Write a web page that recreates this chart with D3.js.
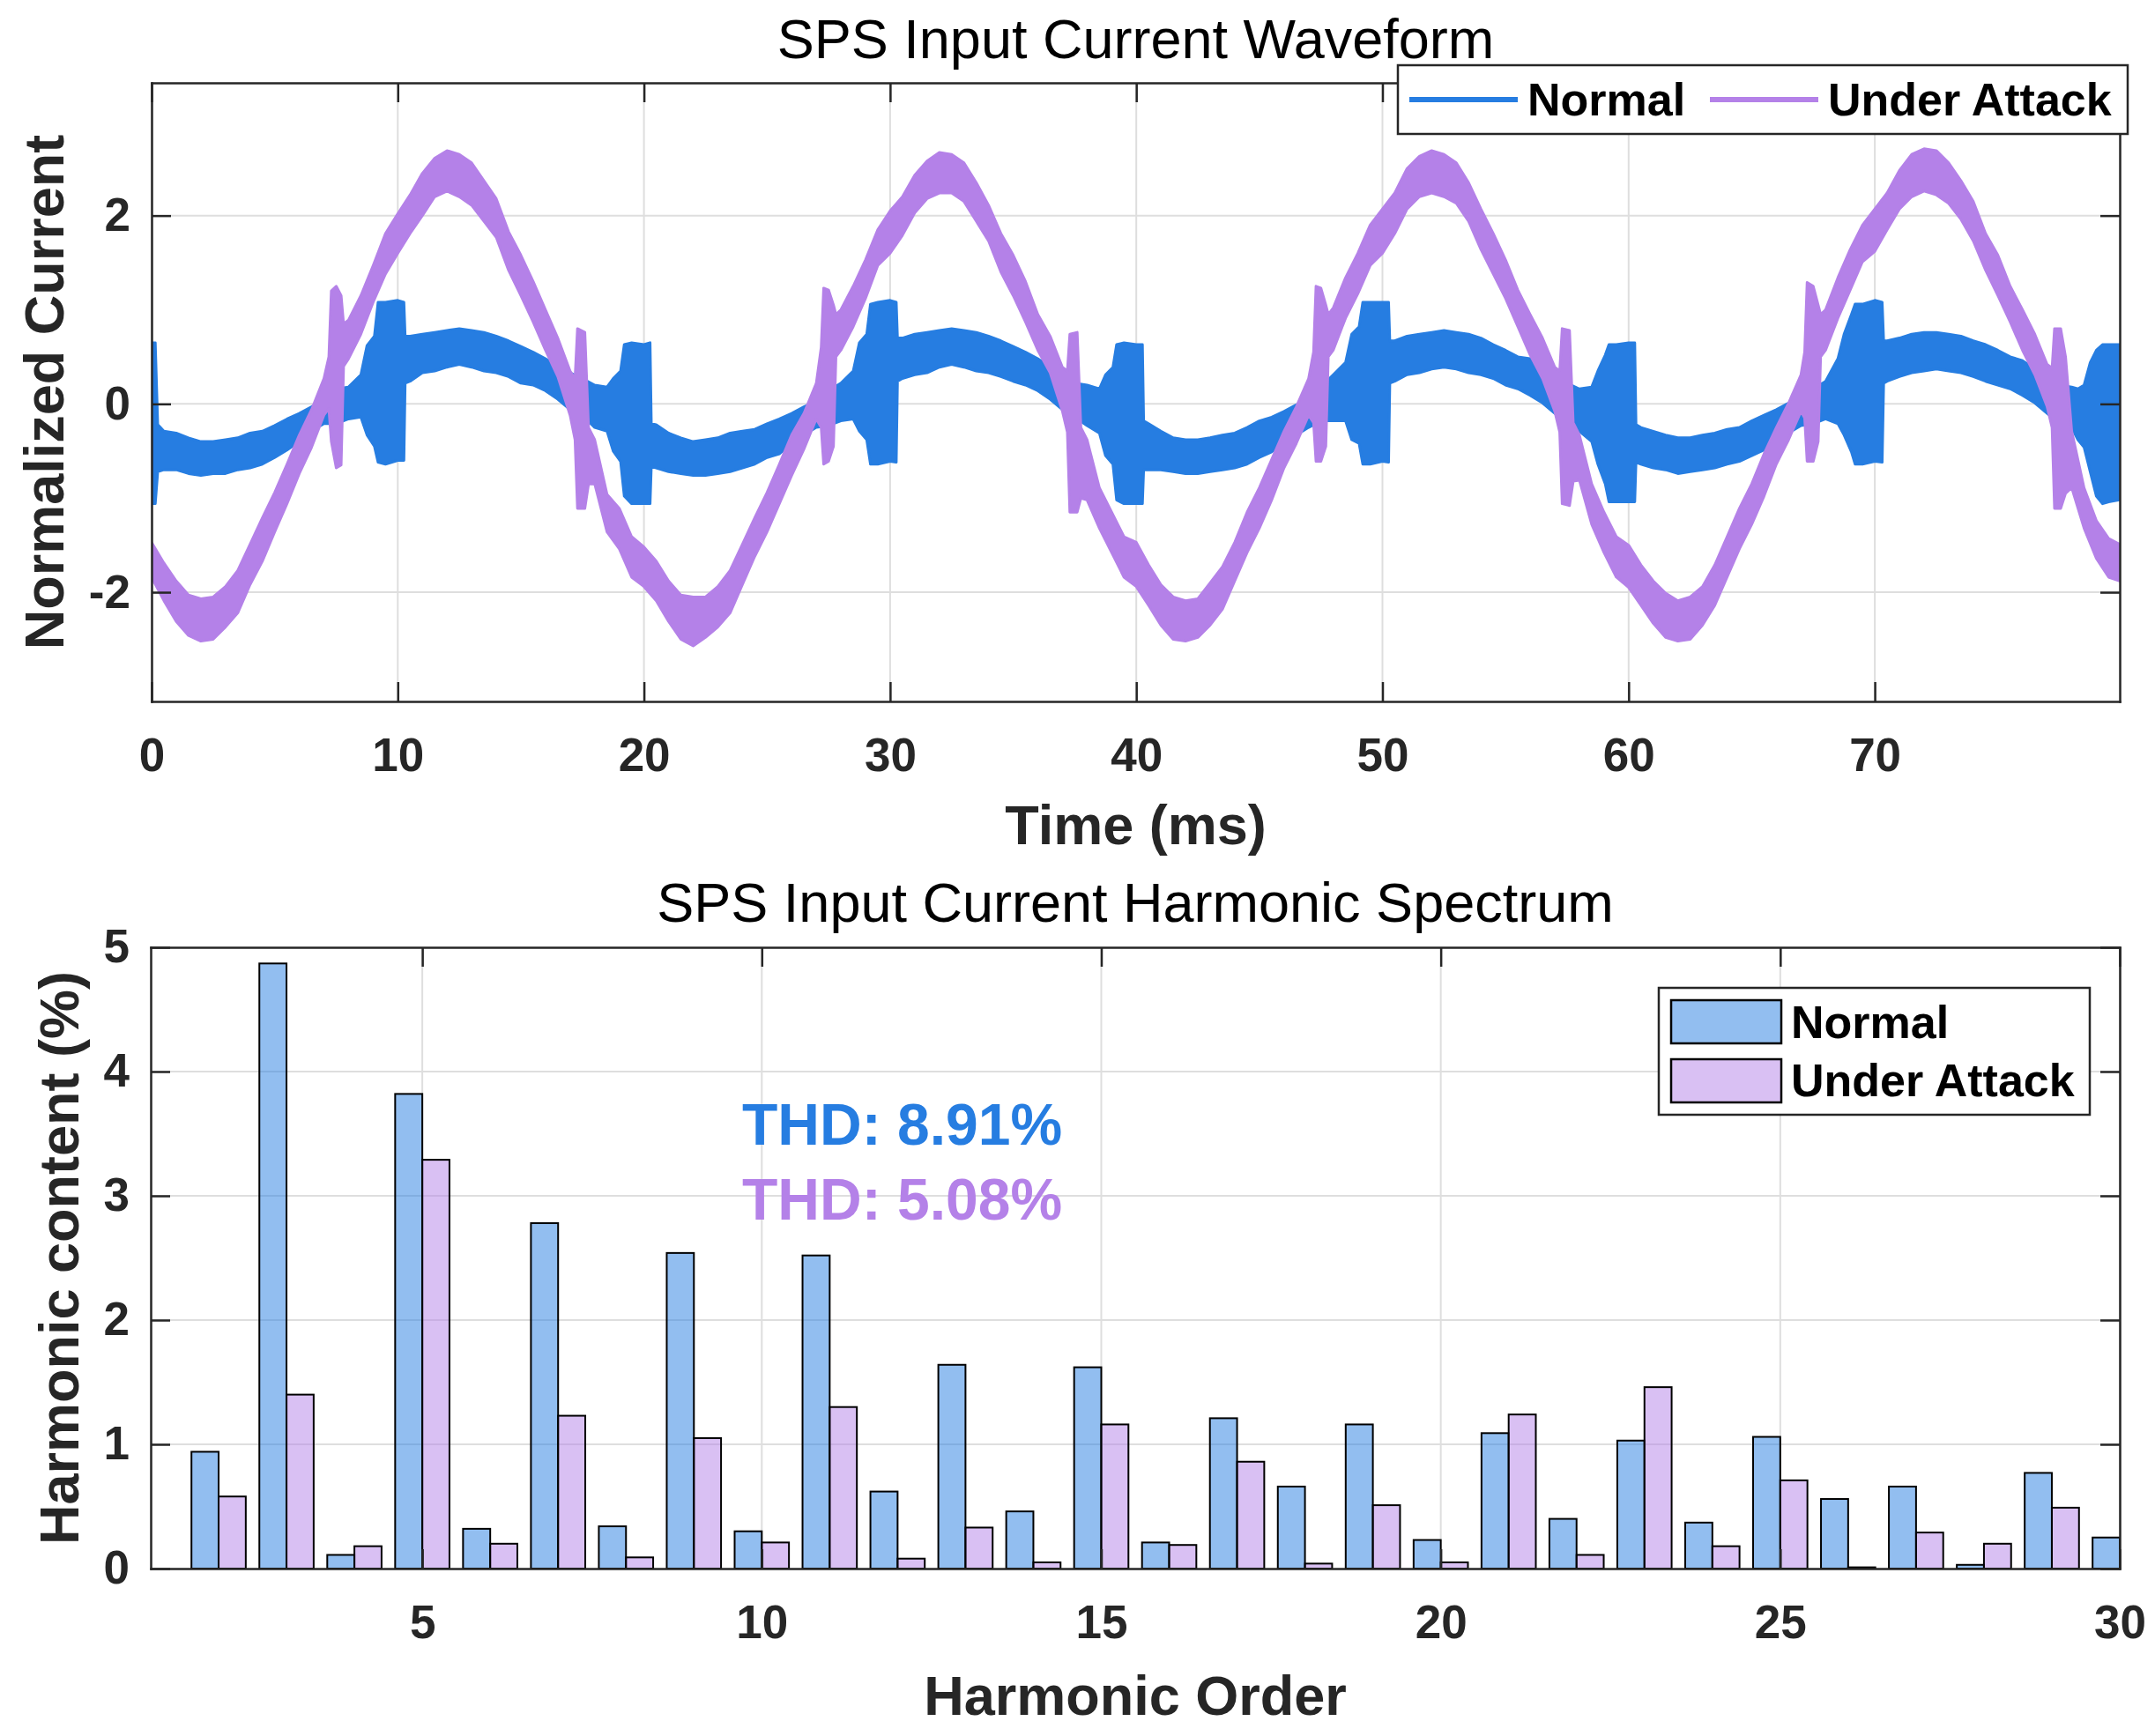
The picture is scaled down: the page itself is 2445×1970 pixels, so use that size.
<!DOCTYPE html>
<html><head><meta charset="utf-8">
<script src="https://cdn.jsdelivr.net/npm/d3@7"></script>
<style>
body{margin:0;background:#fff}
svg{display:block}
text{font-family:"Liberation Sans",Arial,Helvetica,sans-serif}
</style>
</head><body>
<svg id="chart" width="2445" height="1970"></svg>
<script>
// ---------- waveform data: [time ms, lower envelope, upper envelope] ----------
const normalBand = [
[0,-1.06,0.65],[0.15,-1.06,0.65],[0.25,-0.72,-0.22],[0.5,-0.70,-0.29],[1,-0.70,-0.31],[1.5,-0.74,-0.36],
[2,-0.76,-0.40],[2.5,-0.74,-0.40],[3,-0.74,-0.38],[3.5,-0.70,-0.36],[4,-0.68,-0.31],[4.5,-0.64,-0.29],
[5,-0.57,-0.23],[5.5,-0.49,-0.16],[6,-0.40,-0.10],[6.5,-0.29,-0.03],[7,-0.21,0.05],[7.5,-0.21,0.16],
[8,-0.16,0.18],[8.5,-0.14,0.31],[8.75,-0.33,0.62],[9.05,-0.45,0.72],[9.2,-0.62,1.08],[9.5,-0.64,1.08],
[10,-0.60,1.10],[10.25,-0.60,1.08],[10.3,0.22,0.72],[10.5,0.24,0.72],[11,0.33,0.74],[11.5,0.35,0.76],
[12,0.39,0.78],[12.5,0.42,0.80],[13,0.39,0.78],[13.5,0.35,0.76],[14,0.33,0.72],[14.5,0.29,0.67],
[15,0.22,0.61],[15.5,0.20,0.55],[16,0.14,0.48],[16.5,0.05,0.39],[17,-0.06,0.33],[17.5,-0.12,0.27],
[18,-0.25,0.20],[18.5,-0.29,0.18],[18.75,-0.50,0.27],[19.05,-0.61,0.35],[19.2,-0.98,0.63],[19.5,-1.06,0.65],
[20,-1.06,0.63],[20.25,-1.06,0.65],[20.3,-0.66,-0.21],[20.5,-0.68,-0.22],[21,-0.72,-0.31],[21.5,-0.74,-0.36],
[22,-0.76,-0.40],[22.5,-0.76,-0.38],[23,-0.74,-0.36],[23.5,-0.72,-0.31],[24,-0.68,-0.29],[24.5,-0.64,-0.27],
[25,-0.57,-0.21],[25.5,-0.53,-0.16],[26,-0.42,-0.10],[26.5,-0.33,-0.03],[27,-0.25,0.03],[27.5,-0.23,0.14],
[28,-0.18,0.22],[28.5,-0.16,0.35],[28.75,-0.29,0.65],[29.05,-0.38,0.74],[29.2,-0.64,1.06],[29.5,-0.64,1.08],
[30,-0.61,1.10],[30.25,-0.62,1.08],[30.3,0.24,0.70],[30.5,0.27,0.70],[31,0.31,0.74],[31.5,0.33,0.76],
[32,0.39,0.78],[32.5,0.42,0.80],[33,0.39,0.78],[33.5,0.35,0.76],[34,0.33,0.72],[34.5,0.29,0.67],
[35,0.24,0.61],[35.5,0.20,0.55],[36,0.14,0.48],[36.5,0.05,0.39],[37,-0.06,0.31],[37.5,-0.14,0.22],
[38,-0.23,0.20],[38.5,-0.31,0.16],[38.75,-0.55,0.31],[39.05,-0.64,0.39],[39.2,-1.02,0.63],[39.5,-1.06,0.65],
[40,-1.06,0.63],[40.25,-1.06,0.63],[40.3,-0.70,-0.18],[40.5,-0.70,-0.21],[41,-0.70,-0.29],[41.5,-0.72,-0.36],
[42,-0.74,-0.38],[42.5,-0.74,-0.38],[43,-0.72,-0.36],[43.5,-0.70,-0.33],[44,-0.68,-0.31],[44.5,-0.64,-0.25],
[45,-0.57,-0.18],[45.5,-0.51,-0.14],[46,-0.42,-0.08],[46.5,-0.33,-0.01],[47,-0.25,0.07],[47.5,-0.18,0.18],
[48,-0.18,0.31],[48.5,-0.18,0.44],[48.75,-0.38,0.74],[49.05,-0.42,0.82],[49.2,-0.64,1.08],[49.5,-0.64,1.08],
[50,-0.61,1.08],[50.25,-0.62,1.08],[50.3,0.22,0.67],[50.5,0.24,0.67],[51,0.31,0.72],[51.5,0.33,0.74],
[52,0.37,0.76],[52.5,0.39,0.78],[53,0.37,0.76],[53.5,0.33,0.74],[54,0.31,0.70],[54.5,0.27,0.63],
[55,0.20,0.57],[55.5,0.16,0.50],[56,0.09,0.48],[56.5,0.01,0.39],[57,-0.10,0.31],[57.5,-0.21,0.22],
[58,-0.29,0.16],[58.5,-0.40,0.18],[58.75,-0.64,0.35],[59.05,-0.85,0.52],[59.2,-1.04,0.63],[59.5,-1.04,0.63],
[60,-1.04,0.65],[60.25,-1.04,0.65],[60.3,-0.62,-0.22],[60.5,-0.64,-0.25],[61,-0.68,-0.29],[61.5,-0.70,-0.33],
[62,-0.74,-0.36],[62.5,-0.72,-0.36],[63,-0.70,-0.33],[63.5,-0.68,-0.31],[64,-0.64,-0.27],[64.5,-0.61,-0.25],
[65,-0.55,-0.18],[65.5,-0.49,-0.12],[66,-0.40,-0.06],[66.5,-0.31,0.01],[67,-0.23,0.07],[67.5,-0.21,0.16],
[68,-0.16,0.24],[68.5,-0.21,0.48],[68.75,-0.33,0.74],[69.05,-0.51,0.95],[69.2,-0.64,1.06],[69.5,-0.64,1.06],
[70,-0.61,1.10],[70.3,-0.62,1.08],[70.36,0.22,0.67],[70.5,0.24,0.67],[71,0.29,0.70],[71.5,0.33,0.74],
[72,0.35,0.76],[72.5,0.37,0.76],[73,0.35,0.74],[73.5,0.33,0.72],[74,0.29,0.67],[74.5,0.24,0.63],
[75,0.20,0.57],[75.5,0.16,0.50],[76,0.09,0.46],[76.5,0.01,0.37],[77,-0.10,0.29],[77.5,-0.21,0.20],
[78,-0.25,0.18],[78.25,-0.38,0.16],[78.5,-0.46,0.20],[78.75,-0.72,0.44],[79,-0.98,0.57],[79.25,-1.06,0.63],
[79.5,-1.04,0.63],[79.95,-1.02,0.63]
];
const attackBand = [
[0,-1.84,-1.47],[0.5,-2.09,-1.69],[1,-2.31,-1.88],[1.5,-2.46,-2.03],[2,-2.52,-2.07],[2.5,-2.50,-2.05],
[3,-2.37,-1.94],[3.5,-2.22,-1.77],[4,-1.92,-1.49],[4.5,-1.67,-1.21],[5,-1.36,-0.94],[5.5,-1.06,-0.64],
[6,-0.74,-0.33],[6.5,-0.46,-0.06],[7,-0.12,0.27],[7.2,-0.05,0.50],[7.3,-0.40,1.20],[7.5,-0.68,1.25],
[7.7,-0.65,1.15],[7.8,0.40,0.85],[8,0.48,0.89],[8.5,0.74,1.15],[9,1.08,1.47],[9.5,1.38,1.81],
[10,1.60,2.02],[10.5,1.81,2.22],[11,2.00,2.45],[11.5,2.20,2.61],[12,2.26,2.69],[12.5,2.20,2.65],
[13,2.11,2.56],[13.5,1.94,2.37],[14,1.77,2.18],[14.5,1.42,1.83],[15,1.15,1.58],[15.5,0.87,1.30],
[16,0.57,1.00],[16.5,0.29,0.70],[17,-0.12,0.35],[17.2,-0.38,0.27],[17.3,-1.11,0.80],[17.6,-1.11,0.76],
[17.75,-0.85,-0.25],[18,-0.85,-0.38],[18.5,-1.36,-0.96],[19,-1.54,-1.11],[19.5,-1.84,-1.41],[20,-1.94,-1.52],
[20.5,-2.09,-1.67],[21,-2.31,-1.88],[21.5,-2.50,-2.03],[22,-2.57,-2.05],[22.5,-2.48,-2.05],[23,-2.37,-1.94],
[23.5,-2.22,-1.77],[24,-1.92,-1.49],[24.5,-1.62,-1.21],[25,-1.36,-0.94],[25.5,-1.06,-0.64],[26,-0.76,-0.33],
[26.5,-0.48,-0.10],[27,-0.16,0.22],[27.2,-0.25,0.60],[27.3,-0.64,1.23],[27.5,-0.61,1.21],[27.7,-0.45,1.05],
[27.8,0.50,0.95],[28,0.57,1.00],[28.5,0.82,1.25],[29,1.12,1.53],[29.5,1.47,1.85],[30,1.60,2.05],
[30.5,1.79,2.20],[31,2.03,2.43],[31.5,2.18,2.58],[32,2.24,2.67],[32.5,2.24,2.65],[33,2.15,2.56],
[33.5,1.94,2.35],[34,1.73,2.11],[34.5,1.40,1.81],[35,1.15,1.58],[35.5,0.87,1.30],[36,0.57,0.95],
[36.5,0.33,0.72],[37,-0.08,0.39],[37.2,-0.30,0.35],[37.3,-1.15,0.74],[37.6,-1.15,0.76],[37.75,-1.00,-0.25],
[38,-1.02,-0.38],[38.5,-1.32,-0.89],[39,-1.58,-1.15],[39.5,-1.84,-1.41],[40,-1.94,-1.47],[40.5,-2.14,-1.71],
[41,-2.35,-1.92],[41.5,-2.50,-2.05],[42,-2.52,-2.09],[42.5,-2.48,-2.07],[43,-2.35,-1.90],[43.5,-2.18,-1.73],
[44,-1.88,-1.47],[44.5,-1.58,-1.15],[45,-1.32,-0.89],[45.5,-1.02,-0.59],[46,-0.68,-0.29],[46.5,-0.42,-0.03],
[47,-0.12,0.27],[47.2,-0.20,0.55],[47.3,-0.61,1.25],[47.5,-0.61,1.23],[47.7,-0.45,1.05],[47.8,0.50,0.95],
[48,0.57,1.02],[48.5,0.91,1.34],[49,1.17,1.60],[49.5,1.47,1.90],[50,1.60,2.07],[50.5,1.81,2.24],
[51,2.07,2.50],[51.5,2.20,2.63],[52,2.24,2.69],[52.5,2.20,2.65],[53,2.13,2.56],[53.5,1.94,2.35],
[54,1.64,2.07],[54.5,1.38,1.81],[55,1.12,1.53],[55.5,0.82,1.21],[56,0.52,0.95],[56.5,0.27,0.70],
[57,-0.08,0.39],[57.2,-0.30,0.35],[57.3,-1.06,0.80],[57.6,-1.08,0.78],[57.75,-0.82,-0.20],[58,-0.81,-0.33],
[58.5,-1.28,-0.85],[59,-1.58,-1.15],[59.5,-1.84,-1.41],[60,-1.95,-1.50],[60.5,-2.14,-1.71],[61,-2.33,-1.88],
[61.5,-2.48,-2.01],[62,-2.52,-2.09],[62.5,-2.50,-2.05],[63,-2.35,-1.94],[63.5,-2.14,-1.71],[64,-1.84,-1.41],
[64.5,-1.54,-1.11],[65,-1.28,-0.85],[65.5,-0.98,-0.53],[66,-0.64,-0.25],[66.5,-0.38,0.01],[67,-0.08,0.31],
[67.15,-0.15,0.55],[67.25,-0.61,1.29],[67.5,-0.61,1.25],[67.7,-0.40,1.05],[67.8,0.50,0.95],[68,0.57,1.00],
[68.5,0.91,1.34],[69,1.21,1.64],[69.5,1.51,1.90],[70,1.62,2.07],[70.5,1.85,2.24],[71,2.07,2.48],
[71.5,2.20,2.65],[72,2.26,2.71],[72.5,2.22,2.69],[73,2.13,2.56],[73.5,1.96,2.37],[74,1.73,2.15],
[74.5,1.42,1.81],[75,1.15,1.58],[75.5,0.87,1.25],[76,0.57,1.00],[76.5,0.31,0.74],[77,-0.03,0.42],
[77.2,-0.25,0.38],[77.3,-1.11,0.80],[77.55,-1.11,0.80],[77.75,-0.95,0.50],[78,-0.89,-0.29],[78.5,-1.32,-0.89],
[79,-1.64,-1.24],[79.5,-1.84,-1.43],[79.95,-1.88,-1.49]
];
const waveXDomain = [0, 79.95];
const waveYDomain = [-3.16, 3.41];
const waveXTicks = [0,10,20,30,40,50,60,70];
const waveYTicks = [-2,0,2];

// ---------- harmonic spectrum data ----------
const harmonicOrders = [2,3,4,5,6,7,8,9,10,11,12,13,14,15,16,17,18,19,20,21,22,23,24,25,26,27,28,29,30];
const normalHarmonics = [0.94,4.87,0.11,3.82,0.32,2.78,0.34,2.54,0.30,2.52,0.62,1.64,0.46,1.62,0.21,1.21,0.66,1.16,0.23,1.09,0.40,1.03,0.37,1.06,0.56,0.66,0.03,0.77,0.25];
const attackHarmonics = [0.58,1.40,0.18,3.29,0.20,1.23,0.09,1.05,0.21,1.30,0.08,0.33,0.05,1.16,0.19,0.86,0.04,0.51,0.05,1.24,0.11,1.46,0.18,0.71,0.01,0.29,0.20,0.49,0.15];
const harmXDomain = [1, 30];
const harmYDomain = [0, 5];
const harmXTicks = [5,10,15,20,25,30];
const harmYTicks = [0,1,2,3,4,5];
const seriesNames = ["Normal", "Under Attack"];
const thdLabels = ["THD: 8.91%", "THD: 5.08%"];

// ---------- styling ----------
const BLUE = "#267de1", PURPLE = "#b481e8";
const AXC = "#262626", GRID = "#dedede";
const TICK_FS = 53, LABEL_FS = 63, TITLE_FS = 63, LEG_FS = 52;
const fmt = d => String(d);   // plain hyphen-minus like the reference

const svg = d3.select("#chart");
svg.append("rect").attr("width",2445).attr("height",1970).attr("fill","#fff");

function frame(g, x, y, xt, yt, L, R, T, B) {
  const grid = g.append("g").attr("stroke", GRID).attr("stroke-width", 2);
  xt.forEach(v => grid.append("line").attr("x1", x(v)).attr("x2", x(v)).attr("y1", T).attr("y2", B));
  yt.forEach(v => grid.append("line").attr("x1", L).attr("x2", R).attr("y1", y(v)).attr("y2", y(v)));
}
function axes(g, x, y, xt, yt, L, R, T, B) {
  const tl = 22;
  const style = sel => {
    sel.select(".domain").attr("stroke", AXC).attr("stroke-width", 2.5);
    sel.selectAll(".tick line").attr("stroke", AXC).attr("stroke-width", 2.5);
    sel.selectAll("text").attr("fill", AXC).attr("font-size", TICK_FS).attr("font-weight", "bold")
      .attr("font-family", '"Liberation Sans",Arial,Helvetica,sans-serif');
  };
  g.append("g").attr("transform", `translate(0,${B})`)
    .call(d3.axisBottom(x).tickValues(xt).tickSizeInner(-tl).tickSizeOuter(0).tickPadding(41).tickFormat(fmt))
    .call(style);
  g.append("g").attr("transform", `translate(0,${T})`)
    .call(d3.axisTop(x).tickValues(xt).tickSizeInner(-tl).tickSizeOuter(0).tickFormat(""))
    .call(style);
  g.append("g").attr("transform", `translate(${L},0)`)
    .call(d3.axisLeft(y).tickValues(yt).tickSizeInner(-tl).tickSizeOuter(0).tickPadding(24).tickFormat(fmt))
    .call(style);
  g.append("g").attr("transform", `translate(${R},0)`)
    .call(d3.axisRight(y).tickValues(yt).tickSizeInner(-tl).tickSizeOuter(0).tickFormat(""))
    .call(style);
  g.selectAll(".domain").attr("stroke-linecap","square");
}

// ================= TOP: waveform =================
{
  const L = 172, R = 2405, T = 94, B = 796;
  const x = d3.scaleLinear(waveXDomain, [L, R]);
  const y = d3.scaleLinear(waveYDomain, [B, T]);
  const g = svg.append("g");
  frame(g, x, y, waveXTicks, waveYTicks, L, R, T, B);

  svg.append("clipPath").attr("id", "clipTop").append("rect")
    .attr("x", L).attr("y", T).attr("width", R - L).attr("height", B - T);
  const area = d3.area().x(d => x(d[0])).y0(d => y(d[1])).y1(d => y(d[2]));
  const plot = g.append("g").attr("clip-path", "url(#clipTop)");
  [[normalBand, BLUE], [attackBand, PURPLE]].forEach(([data, c]) => {
    plot.append("path").datum(data).attr("d", area)
      .attr("fill", c).attr("stroke", c).attr("stroke-width", 3).attr("stroke-linejoin", "round");
  });
  axes(g, x, y, waveXTicks, waveYTicks, L, R, T, B);

  g.append("text").attr("x", (L + R) / 2).attr("y", 66).attr("text-anchor", "middle")
    .attr("font-size", TITLE_FS).attr("fill", "#000").text("SPS Input Current Waveform");
  g.append("text").attr("x", (L + R) / 2).attr("y", 958).attr("text-anchor", "middle")
    .attr("font-size", LABEL_FS).attr("font-weight", "bold").attr("fill", AXC).text("Time (ms)");
  g.append("text").attr("transform", `translate(72,${(T + B) / 2}) rotate(-90)`).attr("text-anchor", "middle")
    .attr("font-size", LABEL_FS).attr("font-weight", "bold").attr("fill", AXC).text("Normalized Current");

  // legend (horizontal)
  const lg = g.append("g");
  lg.append("rect").attr("x", 1586).attr("y", 74).attr("width", 828).attr("height", 78)
    .attr("fill", "#fff").attr("stroke", "#262626").attr("stroke-width", 2.5);
  const items = [{name: seriesNames[0], c: BLUE, x0: 1599}, {name: seriesNames[1], c: PURPLE, x0: 1940}];
  items.forEach(it => {
    lg.append("line").attr("x1", it.x0).attr("x2", it.x0 + 123).attr("y1", 113).attr("y2", 113)
      .attr("stroke", it.c).attr("stroke-width", 6);
    lg.append("text").attr("x", it.x0 + 134).attr("y", 131).attr("font-size", LEG_FS)
      .attr("font-weight", "bold").attr("fill", "#000").text(it.name);
  });
}

// ================= BOTTOM: harmonic spectrum =================
{
  const L = 171, R = 2405, T = 1075, B = 1780;
  const x = d3.scaleLinear(harmXDomain, [L, R]);
  const y = d3.scaleLinear(harmYDomain, [B, T]);
  const g = svg.append("g");
  frame(g, x, y, harmXTicks, harmYTicks.filter(v => v > 0 && v < 5), L, R, T, B);

  svg.append("clipPath").attr("id", "clipBot").append("rect")
    .attr("x", L).attr("y", T).attr("width", R - L).attr("height", B - T);
  const bars = g.append("g").attr("clip-path", "url(#clipBot)");
  const bw = 0.4;
  bars.selectAll("rect.n").data(harmonicOrders).join("rect").attr("class", "n")
    .attr("x", (h) => x(h - bw)).attr("width", (h) => x(h) - x(h - bw))
    .attr("y", (h, i) => y(normalHarmonics[i])).attr("height", (h, i) => y(0) - y(normalHarmonics[i]))
    .attr("fill", BLUE).attr("fill-opacity", 0.5).attr("stroke", "#000").attr("stroke-width", 2);
  bars.selectAll("rect.a").data(harmonicOrders).join("rect").attr("class", "a")
    .attr("x", (h) => x(h)).attr("width", (h) => x(h + bw) - x(h))
    .attr("y", (h, i) => y(attackHarmonics[i])).attr("height", (h, i) => y(0) - y(attackHarmonics[i]))
    .attr("fill", PURPLE).attr("fill-opacity", 0.5).attr("stroke", "#000").attr("stroke-width", 2);

  axes(g, x, y, harmXTicks, harmYTicks, L, R, T, B);

  g.append("text").attr("x", (L + R) / 2).attr("y", 1046).attr("text-anchor", "middle")
    .attr("font-size", TITLE_FS).attr("fill", "#000").text("SPS Input Current Harmonic Spectrum");
  g.append("text").attr("x", (L + R) / 2).attr("y", 1946).attr("text-anchor", "middle")
    .attr("font-size", LABEL_FS).attr("font-weight", "bold").attr("fill", AXC).text("Harmonic Order");
  g.append("text").attr("transform", `translate(89,${(T + B) / 2}) rotate(-90)`).attr("text-anchor", "middle")
    .attr("font-size", LABEL_FS).attr("font-weight", "bold").attr("fill", AXC).text("Harmonic content (%)");

  g.append("text").attr("x", 842).attr("y", 1299).attr("font-size", 66).attr("font-weight", "bold")
    .attr("fill", BLUE).text(thdLabels[0]);
  g.append("text").attr("x", 842).attr("y", 1384).attr("font-size", 66).attr("font-weight", "bold")
    .attr("fill", PURPLE).text(thdLabels[1]);

  // legend
  const lg = g.append("g");
  lg.append("rect").attr("x", 1882).attr("y", 1121).attr("width", 489).attr("height", 144)
    .attr("fill", "#fff").attr("stroke", "#262626").attr("stroke-width", 2.5);
  [[BLUE, 1135, 1178], [PURPLE, 1202, 1244]].forEach(([c, py, ty], i) => {
    lg.append("rect").attr("x", 1896).attr("y", py).attr("width", 125).attr("height", 49)
      .attr("fill", c).attr("fill-opacity", 0.5).attr("stroke", "#000").attr("stroke-width", 2.5);
    lg.append("text").attr("x", 2032).attr("y", ty).attr("font-size", LEG_FS).attr("font-weight", "bold")
      .attr("fill", "#000").text(seriesNames[i]);
  });
}
</script>
</body></html>
